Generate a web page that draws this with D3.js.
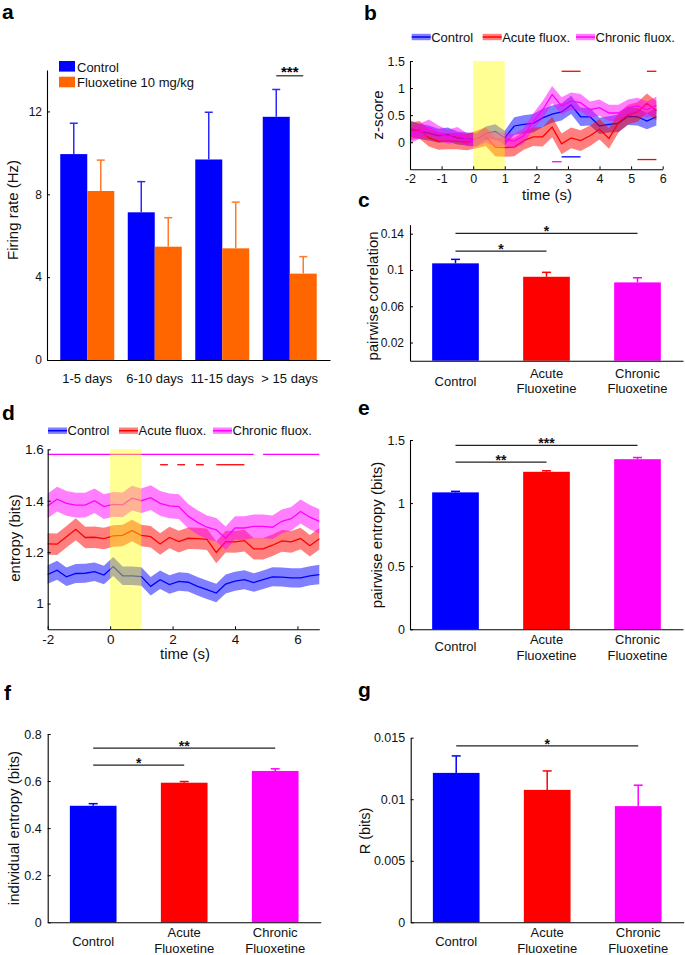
<!DOCTYPE html>
<html><head><meta charset="utf-8">
<script src="https://cdn.jsdelivr.net/npm/d3@7"></script>
<style>
body{margin:0;background:#fff;}
svg{display:block;}
</style></head><body><svg id="fig" width="685" height="955"></svg>
<script>
// ---------------- DATA ----------------
// Panel a
const ageGroups = ["1-5 days", "6-10 days", "11-15 days", "> 15 days"];
const rateControl = [9.94, 7.13, 9.68, 11.74];
const rateControlSem = [1.49, 1.48, 2.28, 1.32];
const rateFluox = [8.16, 5.47, 5.39, 4.17];
const rateFluoxSem = [1.49, 1.40, 2.23, 0.82];
const rateTicks = [0, 4, 8, 12];
const rateLegend = ["Control", "Fluoxetine 10 mg/kg"];
const rateSig = [{group: 3, y: 13.72, label: "***"}];

// Panel b (z-score time course)
const timeB = [-2, -1.7, -1.4, -1.1, -0.8, -0.5, -0.2, 0.1, 0.4, 0.7, 1.0, 1.3, 1.6, 1.9, 2.2, 2.5, 2.8, 3.1, 3.4, 3.7, 4.0, 4.3, 4.6, 4.9, 5.2, 5.5, 5.8];
const zControl = [0.25, 0.20, 0.17, 0.12, 0.14, 0.08, 0.06, 0.05, 0.16, 0.20, 0.08, 0.30, 0.33, 0.35, 0.45, 0.52, 0.56, 0.69, 0.47, 0.47, 0.30, 0.33, 0.35, 0.48, 0.47, 0.39, 0.47];
const zControlSem = [0.15, 0.14, 0.14, 0.13, 0.13, 0.12, 0.12, 0.12, 0.13, 0.13, 0.13, 0.16, 0.17, 0.17, 0.17, 0.16, 0.16, 0.17, 0.17, 0.16, 0.15, 0.15, 0.16, 0.16, 0.16, 0.15, 0.16];
const zAcute = [0.20, 0.23, 0.08, 0.02, 0.02, 0.02, 0.00, 0.05, 0.10, -0.09, -0.10, -0.09, 0.03, 0.10, 0.10, 0.28, -0.03, 0.08, 0.03, 0.12, 0.24, 0.07, 0.36, 0.51, 0.56, 0.72, 0.58];
const zAcuteSem = [0.16, 0.16, 0.16, 0.16, 0.15, 0.15, 0.15, 0.16, 0.17, 0.17, 0.17, 0.17, 0.17, 0.17, 0.18, 0.19, 0.19, 0.19, 0.19, 0.19, 0.19, 0.19, 0.18, 0.18, 0.18, 0.18, 0.18];
const zChronic = [0.12, 0.20, 0.27, 0.17, 0.10, 0.15, 0.05, 0.03, 0.12, 0.05, 0.05, 0.02, 0.12, 0.38, 0.60, 0.88, 0.67, 0.76, 0.73, 0.60, 0.64, 0.54, 0.54, 0.64, 0.67, 0.60, 0.68];
const zChronicSem = [0.14, 0.14, 0.15, 0.14, 0.13, 0.13, 0.12, 0.12, 0.13, 0.13, 0.13, 0.13, 0.14, 0.15, 0.16, 0.16, 0.16, 0.16, 0.16, 0.15, 0.15, 0.15, 0.15, 0.15, 0.15, 0.15, 0.16];
const zTicksY = [0, 0.5, 1, 1.5];
const zTicksX = [-2, -1, 0, 1, 2, 3, 4, 5, 6];
const sigB = [
  {t0: 2.8, t1: 3.4, y: 1.31, s: 1},
  {t0: 5.5, t1: 5.8, y: 1.31, s: 1},
  {t0: 2.8, t1: 3.4, y: -0.27, s: 0},
  {t0: 2.5, t1: 2.8, y: -0.36, s: 2},
  {t0: 5.2, t1: 5.8, y: -0.32, s: 1}
];
const stimWindow = [0, 1];
const seriesNames = ["Control", "Acute fluox.", "Chronic fluox."];

// Panel d (entropy time course)
const timeD = [-2, -1.7, -1.4, -1.1, -0.8, -0.5, -0.2, 0.1, 0.4, 0.7, 1.0, 1.3, 1.6, 1.9, 2.2, 2.5, 2.8, 3.1, 3.4, 3.7, 4.0, 4.3, 4.6, 4.9, 5.2, 5.5, 5.8, 6.1, 6.4, 6.7];
const entControl = [1.113, 1.130, 1.104, 1.117, 1.118, 1.124, 1.111, 1.144, 1.108, 1.108, 1.105, 1.067, 1.093, 1.074, 1.086, 1.083, 1.067, 1.054, 1.041, 1.076, 1.087, 1.093, 1.082, 1.093, 1.104, 1.103, 1.100, 1.100, 1.108, 1.113];
const entControlSem = [0.036, 0.037, 0.036, 0.037, 0.037, 0.036, 0.036, 0.037, 0.036, 0.036, 0.036, 0.036, 0.036, 0.036, 0.036, 0.036, 0.036, 0.036, 0.036, 0.037, 0.037, 0.037, 0.036, 0.036, 0.037, 0.037, 0.037, 0.037, 0.037, 0.038];
const entAcute = [1.232, 1.231, 1.260, 1.289, 1.257, 1.258, 1.253, 1.263, 1.265, 1.284, 1.265, 1.260, 1.232, 1.257, 1.241, 1.254, 1.253, 1.250, 1.199, 1.241, 1.240, 1.245, 1.213, 1.213, 1.227, 1.244, 1.240, 1.253, 1.225, 1.252];
const entAcuteSem = [0.042, 0.042, 0.042, 0.043, 0.042, 0.042, 0.042, 0.042, 0.042, 0.042, 0.042, 0.042, 0.042, 0.042, 0.042, 0.042, 0.042, 0.042, 0.042, 0.042, 0.042, 0.042, 0.042, 0.042, 0.042, 0.042, 0.042, 0.042, 0.042, 0.042];
const entChronic = [1.380, 1.406, 1.390, 1.383, 1.383, 1.400, 1.377, 1.386, 1.384, 1.410, 1.400, 1.412, 1.390, 1.380, 1.377, 1.340, 1.316, 1.297, 1.287, 1.254, 1.294, 1.294, 1.300, 1.300, 1.297, 1.320, 1.330, 1.358, 1.336, 1.320];
const entChronicSem = [0.048, 0.048, 0.048, 0.048, 0.048, 0.048, 0.048, 0.048, 0.048, 0.048, 0.048, 0.048, 0.048, 0.048, 0.048, 0.047, 0.047, 0.046, 0.046, 0.046, 0.046, 0.046, 0.046, 0.046, 0.046, 0.046, 0.046, 0.047, 0.047, 0.047];
const entTicksY = [1, 1.2, 1.4, 1.6];
const entTicksX = [-2, 0, 2, 4, 6];
const sigD = [
  {t0: -2, t1: 4.6, y: 1.58, s: 2},
  {t0: 4.9, t1: 6.7, y: 1.58, s: 2},
  {t0: 1.6, t1: 1.85, y: 1.54, s: 1},
  {t0: 2.15, t1: 2.4, y: 1.54, s: 1},
  {t0: 2.75, t1: 3.0, y: 1.54, s: 1},
  {t0: 3.4, t1: 4.3, y: 1.54, s: 1}
];

// Bar panels c, e, f, g
const treatments = ["Control", "Acute Fluoxetine", "Chronic Fluoxetine"];
const corrMean = [0.1073, 0.0925, 0.0863];
const corrSem = [0.0044, 0.0049, 0.0051];
const corrTicks = [0.02, 0.06, 0.1, 0.14];
const corrSig = [{a: 0, b: 1, y: 0.1208, label: "*"}, {a: 0, b: 2, y: 0.1403, label: "*"}];

const pairEntMean = [1.085, 1.248, 1.348];
const pairEntSem = [0.008, 0.008, 0.013];
const pairEntTicks = [0, 0.5, 1, 1.5];
const pairEntSig = [{a: 0, b: 1, y: 1.324, label: "**"}, {a: 0, b: 2, y: 1.458, label: "***"}];

const indEntMean = [0.495, 0.593, 0.643];
const indEntSem = [0.009, 0.005, 0.009];
const indEntTicks = [0, 0.2, 0.4, 0.6, 0.8];
const indEntSig = [{a: 0, b: 1, y: 0.668, label: "*"}, {a: 0, b: 2, y: 0.740, label: "**"}];

const rMean = [0.01214, 0.01076, 0.00944];
const rSem = [0.00138, 0.00154, 0.0017];
const rTicks = [0, 0.005, 0.01, 0.015];
const rSig = [{a: 0, b: 2, y: 0.01433, label: "*"}];

// ---------------- DRAWING ----------------
const FONT = '"Liberation Sans", Arial, Helvetica, sans-serif';
const COLORS = ["#0000ff", "#ff0000", "#ff00ff"];
const ORANGE = "#ff6600";
const svg = d3.select("#fig").attr("font-family", FONT);
svg.append("rect").attr("width", 685).attr("height", 955).attr("fill", "#fff");

function panelLabel(t, x, y) {
  svg.append("text").attr("x", x).attr("y", y).attr("font-size", 21)
    .attr("font-weight", "bold").attr("fill", "#000").text(t);
}
function styleAxis(g, fs) {
  g.attr("font-family", FONT);
  g.select(".domain").attr("stroke", "#000").attr("stroke-width", 1.1);
  g.selectAll(".tick line").attr("stroke", "#000");
  g.selectAll(".tick text").attr("font-size", fs).attr("fill", "#111");
}
function yLabel(t, cx, cy, fs) {
  svg.append("text").attr("transform", `translate(${cx},${cy}) rotate(-90)`)
    .attr("text-anchor", "middle").attr("dy", "0.35em").attr("font-size", fs)
    .attr("fill", "#111").text(t);
}

// ---- Panel a ----
(function () {
  panelLabel("a", 2, 19);
  const y = d3.scaleLinear().domain([0, 14]).range([360, 70]);
  const x = d3.scaleBand().domain(ageGroups).range([47, 330]).paddingInner(0).paddingOuter(0.0963);
  const bw = x.bandwidth() * 0.4;
  const g = svg.append("g");
  const cen = d => x(d) + x.bandwidth() / 2;
  const sets = [
    {vals: rateControl, sem: rateControlSem, color: "#0000ff", err: "#2a2aff", off: -1},
    {vals: rateFluox, sem: rateFluoxSem, color: ORANGE, err: "#ff7a2a", off: 0}
  ];
  sets.forEach(s => {
    g.selectAll(null).data(ageGroups).join("rect")
      .attr("x", d => cen(d) + s.off * bw).attr("width", bw)
      .attr("y", (d, i) => y(s.vals[i])).attr("height", (d, i) => y(0) - y(s.vals[i]))
      .attr("fill", s.color);
    g.selectAll(null).data(ageGroups).join("line")
      .attr("x1", d => cen(d) + s.off * bw + bw / 2).attr("x2", d => cen(d) + s.off * bw + bw / 2)
      .attr("y1", (d, i) => y(s.vals[i])).attr("y2", (d, i) => y(s.vals[i] + s.sem[i]))
      .attr("stroke", s.err).attr("stroke-width", 1.5);
    g.selectAll(null).data(ageGroups).join("line")
      .attr("x1", d => cen(d) + s.off * bw + bw / 2 - 4).attr("x2", d => cen(d) + s.off * bw + bw / 2 + 4)
      .attr("y1", (d, i) => y(s.vals[i] + s.sem[i])).attr("y2", (d, i) => y(s.vals[i] + s.sem[i]))
      .attr("stroke", s.err).attr("stroke-width", 1.5);
  });
  const ya = svg.append("g").attr("transform", "translate(47,0)")
    .call(d3.axisLeft(y).tickValues(rateTicks).tickSizeInner(-3).tickSizeOuter(0).tickPadding(5).tickFormat(String));
  styleAxis(ya, 12);
  const xa = svg.append("g").attr("transform", "translate(0,360)")
    .call(d3.axisBottom(x).tickSize(0).tickPadding(14).tickFormat(d => d));
  styleAxis(xa, 13);
  xa.selectAll(".tick text").attr("dy", "0.71em").attr("y", 14);
  yLabel("Firing rate (Hz)", 13, 210, 15);
  // legend
  const lg = svg.append("g");
  [["#0000ff", 61], [ORANGE, 76.7]].forEach((c, i) => {
    lg.append("rect").attr("x", 59).attr("y", c[1]).attr("width", 16).attr("height", 10.6).attr("fill", c[0]);
    lg.append("text").attr("x", 77).attr("y", c[1] + 10.5).attr("font-size", 13).attr("fill", "#111").text(rateLegend[i]);
  });
  rateSig.forEach(s => {
    const c = cen(ageGroups[s.group]);
    g.append("line").attr("x1", c - bw / 2).attr("x2", c + bw / 2).attr("y1", y(s.y)).attr("y2", y(s.y))
      .attr("stroke", "#222").attr("stroke-width", 1.2);
    g.append("text").attr("x", c).attr("y", y(s.y) + 1).attr("text-anchor", "middle")
      .attr("font-size", 15).attr("font-weight", "bold").text(s.label);
  });
})();

// ---- Time course panels b, d ----
function lineBandPanel(o) {
  panelLabel(o.label, o.labelX, o.labelY);
  const x = d3.scaleLinear().domain(o.xDomain).range(o.xRange);
  const y = d3.scaleLinear().domain(o.yDomain).range(o.yRange);
  const g = svg.append("g");
  o.series.forEach((s, k) => {
    const area = d3.area().x((d, i) => x(o.time[i]))
      .y0((d, i) => y(s.mean[i] - s.sem[i])).y1((d, i) => y(s.mean[i] + s.sem[i]));
    g.append("path").datum(s.mean).attr("d", area).attr("fill", COLORS[k]).attr("fill-opacity", 0.5);
    const line = d3.line().x((d, i) => x(o.time[i])).y(d => y(d));
    g.append("path").datum(s.mean).attr("d", line).attr("fill", "none")
      .attr("stroke", COLORS[k]).attr("stroke-width", 1.3);
  });
  g.selectAll(null).data(o.sig).join("line")
    .attr("x1", d => x(d.t0)).attr("x2", d => x(d.t1)).attr("y1", d => y(d.y)).attr("y2", d => y(d.y))
    .attr("stroke", d => COLORS[d.s]).attr("stroke-width", 1.3);
  g.append("rect").attr("x", x(stimWindow[0])).attr("width", x(stimWindow[1]) - x(stimWindow[0]))
    .attr("y", y(o.yDomain[1])).attr("height", y(o.yDomain[0]) - y(o.yDomain[1]))
    .attr("fill", "#ffff00").attr("fill-opacity", 0.42);
  const ya = svg.append("g").attr("transform", `translate(${o.xRange[0]},0)`)
    .call(d3.axisLeft(y).tickValues(o.yTicks).tickSizeInner(-3).tickSizeOuter(0).tickPadding(o.yPad).tickFormat(String));
  styleAxis(ya, o.tickFs);
  const xa = svg.append("g").attr("transform", `translate(0,${o.yRange[0]})`)
    .call(d3.axisBottom(x).tickValues(o.xTicks).tickSizeInner(-3).tickSizeOuter(0).tickPadding(5).tickFormat(String));
  styleAxis(xa, o.tickFs);
  svg.append("text").attr("x", o.xLabelX).attr("y", o.xLabelY).attr("text-anchor", "middle")
    .attr("font-size", 15).attr("fill", "#111").text("time (s)");
  yLabel(o.yLabel, o.yLabelX, o.yLabelY, 15);
  // legend
  const lg = svg.append("g");
  o.legendX.forEach((lx, k) => {
    lg.append("rect").attr("x", lx).attr("y", o.legendY - 3.2).attr("width", 19).attr("height", 6.4)
      .attr("fill", COLORS[k]).attr("fill-opacity", 0.5);
    lg.append("line").attr("x1", lx).attr("x2", lx + 19).attr("y1", o.legendY).attr("y2", o.legendY)
      .attr("stroke", COLORS[k]).attr("stroke-width", 1.5);
    lg.append("text").attr("x", lx + 19.5).attr("y", o.legendY + 4.6).attr("font-size", 13)
      .attr("fill", "#111").text(seriesNames[k]);
  });
}

lineBandPanel({
  label: "b", labelX: 364, labelY: 20,
  time: timeB,
  series: [{mean: zControl, sem: zControlSem}, {mean: zAcute, sem: zAcuteSem}, {mean: zChronic, sem: zChronicSem}],
  sig: sigB,
  xDomain: [-2, 6], xRange: [410, 662.7],
  yDomain: [-0.5, 1.5], yRange: [169.3, 61],
  yTicks: zTicksY, xTicks: zTicksX, yPad: 5, tickFs: 12.5,
  xLabelX: 547, xLabelY: 199.5, yLabel: "z-score", yLabelX: 378, yLabelY: 115,
  legendX: [411.7, 482.7, 576], legendY: 37
});

lineBandPanel({
  label: "d", labelX: 2, labelY: 420,
  time: timeD,
  series: [{mean: entControl, sem: entControlSem}, {mean: entAcute, sem: entAcuteSem}, {mean: entChronic, sem: entChronicSem}],
  sig: sigD,
  xDomain: [-2, 6.7], xRange: [47.7, 319.3],
  yDomain: [0.9, 1.6], yRange: [629.3, 449.3],
  yTicks: entTicksY, xTicks: entTicksX, yPad: 4, tickFs: 13.5,
  xLabelX: 185, xLabelY: 659, yLabel: "entropy (bits)", yLabelX: 15, yLabelY: 538,
  legendX: [48, 119, 213], legendY: 430.7
});

// ---- Bar panels ----
function barPanel(o) {
  panelLabel(o.label, o.labelX, o.labelY);
  const x = d3.scaleBand().domain(treatments).range(o.xRange).paddingInner(0.487).paddingOuter(0.2435);
  const y = d3.scaleLinear().domain(o.yDomain).range(o.yRange);
  const g = svg.append("g");
  const cen = d => x(d) + x.bandwidth() / 2;
  g.selectAll(null).data(treatments).join("rect")
    .attr("x", d => x(d)).attr("width", x.bandwidth())
    .attr("y", (d, i) => y(o.mean[i])).attr("height", (d, i) => y(0) - y(o.mean[i]))
    .attr("fill", (d, i) => COLORS[i]);
  g.selectAll(null).data(treatments).join("line")
    .attr("x1", cen).attr("x2", cen)
    .attr("y1", (d, i) => y(o.mean[i])).attr("y2", (d, i) => y(o.mean[i] + o.sem[i]))
    .attr("stroke", (d, i) => COLORS[i]).attr("stroke-width", 1.5);
  g.selectAll(null).data(treatments).join("line")
    .attr("x1", d => cen(d) - 4.5).attr("x2", d => cen(d) + 4.5)
    .attr("y1", (d, i) => y(o.mean[i] + o.sem[i])).attr("y2", (d, i) => y(o.mean[i] + o.sem[i]))
    .attr("stroke", (d, i) => COLORS[i]).attr("stroke-width", 1.5);
  // significance
  o.sig.forEach(s => {
    const xa = cen(treatments[s.a]), xb = cen(treatments[s.b]);
    g.append("line").attr("x1", xa).attr("x2", xb).attr("y1", y(s.y)).attr("y2", y(s.y))
      .attr("stroke", "#222").attr("stroke-width", 1.2);
    g.append("text").attr("x", (xa + xb) / 2).attr("y", y(s.y) + 3).attr("text-anchor", "middle")
      .attr("font-size", 14).attr("font-weight", "bold").attr("fill", "#111").text(s.label);
  });
  const ya = svg.append("g").attr("transform", `translate(${o.xRange[0]},0)`)
    .call(d3.axisLeft(y).tickValues(o.ticks).tickSizeInner(-3).tickSizeOuter(0).tickPadding(o.yPad).tickFormat(String));
  styleAxis(ya, o.tickFs);
  const xa = svg.append("g").attr("transform", `translate(0,${o.yRange[0]})`)
    .call(d3.axisBottom(x).tickSize(0).tickFormat(""));
  styleAxis(xa, 13);
  // category labels
  treatments.forEach(t => {
    const parts = t.split(" ");
    const c = cen(t);
    if (parts.length === 1) {
      svg.append("text").attr("x", c).attr("y", o.yRange[0] + o.singleOff).attr("text-anchor", "middle")
        .attr("font-size", 13).attr("fill", "#111").text(t);
    } else {
      parts.forEach((p, j) => {
        svg.append("text").attr("x", c).attr("y", o.yRange[0] + o.dblOff + j * 15.7).attr("text-anchor", "middle")
          .attr("font-size", 13).attr("fill", "#111").text(p);
      });
    }
  });
  yLabel(o.yLabel, o.yLabelX, o.yLabelY, o.yLabelFs || 15);
}

barPanel({
  label: "c", labelX: 358, labelY: 207,
  mean: corrMean, sem: corrSem, ticks: corrTicks, sig: corrSig,
  xRange: [410, 683], yDomain: [0, 0.15], yRange: [360.7, 224.6],
  yPad: 6, tickFs: 12, singleOff: 25.5, dblOff: 17, yLabel: "pairwise correlation", yLabelX: 373, yLabelY: 296
});
barPanel({
  label: "e", labelX: 358, labelY: 415,
  mean: pairEntMean, sem: pairEntSem, ticks: pairEntTicks, sig: pairEntSig,
  xRange: [410, 683], yDomain: [0, 1.5], yRange: [629.3, 440],
  yPad: 5, tickFs: 12.5, singleOff: 22, dblOff: 14.5, yLabel: "pairwise entropy (bits)", yLabelX: 376.5, yLabelY: 535
});
barPanel({
  label: "f", labelX: 4, labelY: 700,
  mean: indEntMean, sem: indEntSem, ticks: indEntTicks, sig: indEntSig,
  xRange: [47.7, 320.7], yDomain: [0, 0.8], yRange: [922.3, 734],
  yPad: 6, tickFs: 12.5, singleOff: 23.2, dblOff: 14.8, yLabel: "individual entropy (bits)", yLabelX: 13.3, yLabelY: 828
});
barPanel({
  label: "g", labelX: 358, labelY: 697,
  mean: rMean, sem: rSem, ticks: rTicks, sig: rSig,
  xRange: [410.7, 683.7], yDomain: [0, 0.015], yRange: [922.3, 737.7],
  yPad: 5.5, tickFs: 12.5, singleOff: 23.2, dblOff: 14.8, yLabel: "R (bits)", yLabelX: 365, yLabelY: 831, yLabelFs: 14.5
});
</script></body></html>
